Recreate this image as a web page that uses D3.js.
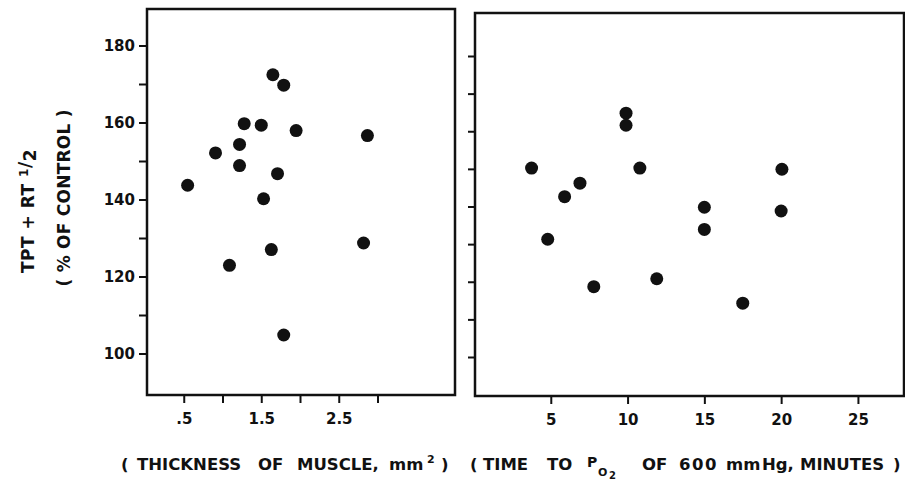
<!DOCTYPE html>
<meta charset="utf-8">
<title>TPT + RT 1/2 vs thickness and time</title>
<style>
  body { margin: 0; background: #fff; }
  svg { display: block; }
  text { font-family: "DejaVu Sans", "Liberation Sans", sans-serif; font-weight: bold; fill: #111; }
  .frame { fill: none; stroke: #111; stroke-width: 2.5px; }
  .tick line { stroke: #111; stroke-width: 2px; }
  .dot { fill: #111; }
</style>
<body>
<svg width="905" height="482"></svg>
<script src="https://cdn.jsdelivr.net/npm/d3@7"></script>
<script>

// left panel: thickness of muscle (mm2) vs TPT + RT 1/2 (% of control)
var thickX = [0.55, 0.91, 1.09, 1.22, 1.22, 1.28, 1.50, 1.53, 1.63, 1.65, 1.71, 1.79, 1.79, 1.95, 2.82, 2.87];
var thickY = [143.7, 152.1, 122.9, 154.3, 148.8, 159.7, 159.3, 140.2, 127.0, 172.4, 146.7, 169.7, 104.8, 157.9, 128.7, 156.6];

// right panel: time to PO2 of 600 mmHg (minutes)
var timeX = [3.75, 4.8, 5.9, 6.9, 7.8, 9.9, 9.9, 10.8, 11.9, 15.0, 15.0, 17.5, 20.05, 20.0];
var timeY = [150.2, 131.3, 142.6, 146.2, 118.7, 164.8, 161.6, 150.2, 120.8, 139.8, 133.9, 114.3, 149.9, 138.8];

var yTicks = [100, 110, 120, 130, 140, 150, 160, 170, 180];
var yLabels = [100, 120, 140, 160, 180];
var thickTicks = [0.5, 1.0, 1.5, 2.0, 2.5, 3.0];
var thickLabels = {0.5: ".5", 1.5: "1.5", 2.5: "2.5"};
var timeTicks = [5, 10, 15, 20, 25];

var svg = d3.select("svg");

// ----- left panel
var L = {left: 147, right: 455, top: 9, bottom: 395};
var xL = d3.scaleLinear().domain([0, 4]).range([145, 455]);
var yL = d3.scaleLinear().domain([100, 180]).range([353.5, 45.5]);

var gL = svg.append("g");

gL.append("g")
  .attr("class", "tick")
  .attr("transform", "translate(" + L.left + ",0)")
  .call(d3.axisLeft(yL).tickValues(yTicks).tickSize(8).tickPadding(4)
    .tickFormat(function (d) { return yLabels.indexOf(d) >= 0 ? d : ""; }))
  .call(function (g) { g.select(".domain").remove(); })
  .selectAll("text").style("font-size", "15px").attr("fill", "#111");

gL.append("g")
  .attr("class", "tick")
  .attr("transform", "translate(0," + L.bottom + ")")
  .call(d3.axisBottom(xL).tickValues(thickTicks).tickSize(8).tickPadding(10)
    .tickFormat(function (d) { return thickLabels[d] || ""; }))
  .call(function (g) { g.select(".domain").remove(); })
  .selectAll("text").style("font-size", "15px").attr("fill", "#111");

gL.append("rect").attr("class", "frame")
  .attr("x", L.left).attr("y", L.top)
  .attr("width", L.right - L.left).attr("height", L.bottom - L.top);

gL.selectAll(".dot")
  .data(d3.range(thickX.length))
  .enter().append("circle")
  .attr("class", "dot")
  .attr("cx", function (i) { return xL(thickX[i]); })
  .attr("cy", function (i) { return yL(thickY[i]); })
  .attr("r", 6.5);

// ----- right panel
var R = {left: 475, right: 904, top: 13, bottom: 396};
var xR = d3.scaleLinear().domain([0, 28]).range([474, 904]);
var yR = d3.scaleLinear().domain([100, 180]).range([357, 56]);

var gR = svg.append("g");

gR.append("g")
  .attr("class", "tick")
  .attr("transform", "translate(" + R.left + ",0)")
  .call(d3.axisLeft(yR).tickValues(yTicks).tickSize(7).tickFormat(""))
  .call(function (g) { g.select(".domain").remove(); });

gR.append("g")
  .attr("class", "tick")
  .attr("transform", "translate(0," + R.bottom + ")")
  .call(d3.axisBottom(xR).tickValues(timeTicks).tickSize(8).tickPadding(10))
  .call(function (g) { g.select(".domain").remove(); })
  .selectAll("text").style("font-size", "15px").attr("fill", "#111");

gR.append("rect").attr("class", "frame")
  .attr("x", R.left).attr("y", R.top)
  .attr("width", R.right - R.left).attr("height", R.bottom - R.top);

gR.selectAll(".dot")
  .data(d3.range(timeX.length))
  .enter().append("circle")
  .attr("class", "dot")
  .attr("cx", function (i) { return xR(timeX[i]); })
  .attr("cy", function (i) { return yR(timeY[i]); })
  .attr("r", 6.5);

// ----- axis titles
var t1 = svg.append("text")
  .attr("transform", "translate(34,211) rotate(-90)")
  .attr("text-anchor", "middle")
  .style("font-size", "17px")
  .style("letter-spacing", "0.5px");
t1.append("tspan").text("TPT + RT ");
t1.append("tspan").attr("dy", -6).style("font-size", "12px").text("1");
t1.append("tspan").attr("dy", 3).text("/");
t1.append("tspan").attr("dy", 5).text("2");

svg.append("text")
  .attr("transform", "translate(70,198) rotate(-90)")
  .attr("text-anchor", "middle")
  .attr("textLength", 177)
  .attr("lengthAdjust", "spacing")
  .style("font-size", "17px")
  .text("( % OF CONTROL )");

var t2 = svg.append("text")
  .attr("y", 470)
  .style("font-size", "16.5px");
t2.append("tspan").attr("x", 121).text("(");
t2.append("tspan").attr("x", 137).text("THICKNESS");
t2.append("tspan").attr("x", 258).text("OF");
t2.append("tspan").attr("x", 297).text("MUSCLE,");
t2.append("tspan").attr("x", 389).text("mm");
t2.append("tspan").attr("x", 427).attr("dy", -7).style("font-size", "11px").text("2");
t2.append("tspan").attr("x", 441).attr("dy", 7).text(")");

var t3 = svg.append("text")
  .attr("y", 470)
  .style("font-size", "16.5px");
t3.append("tspan").attr("x", 470).text("(");
t3.append("tspan").attr("x", 483).text("TIME");
t3.append("tspan").attr("x", 547).text("TO");
t3.append("tspan").attr("x", 587).attr("dy", -3).style("font-size", "14px").text("P");
t3.append("tspan").attr("x", 598).attr("dy", 9).style("font-size", "11px").text("O");
t3.append("tspan").attr("x", 609).attr("dy", 3).style("font-size", "10px").text("2");
t3.append("tspan").attr("x", 642).attr("dy", -9).text("OF");
t3.append("tspan").attr("x", 679).style("letter-spacing", "1.5px").text("600");
t3.append("tspan").attr("x", 726).text("mm");
t3.append("tspan").attr("x", 762).text("Hg,");
t3.append("tspan").attr("x", 800).text("MINUTES");
t3.append("tspan").attr("x", 893).text(")");

</script>
</body>
